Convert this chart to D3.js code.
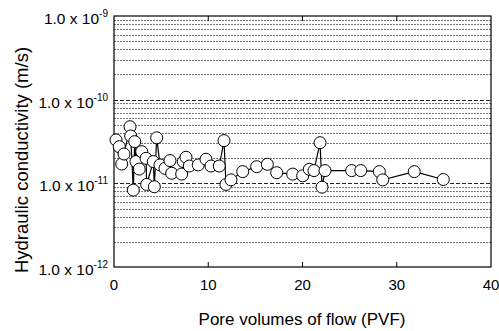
<!DOCTYPE html>
<html>
<head>
<meta charset="utf-8">
<script src="https://cdn.jsdelivr.net/npm/d3@7"></script>
<style>
  body { margin: 0; background: #fff; }
  svg text { font-family: "Liberation Sans", Arial, sans-serif; fill: #000; }
</style>
</head>
<body>
<div id="chart"></div>
<script>
// pore volumes of flow (PVF)
const pvf = [0.21, 0.56, 0.82, 1.06, 1.70, 1.77, 2.05, 2.20, 2.33, 2.68, 2.94, 3.40, 3.47,
    4.17, 4.28, 4.53, 4.88, 5.41, 5.94, 6.12, 7.18, 7.35, 7.64, 7.99, 8.94, 9.76, 10.29,
    11.17, 11.67, 11.88, 12.41, 13.66, 15.14, 16.27, 17.26, 18.96, 20.02, 20.72, 21.22,
    21.86, 22.07, 22.39, 25.22, 26.18, 28.15, 28.51, 31.86, 34.94];
// hydraulic conductivity (m/s)
const conductivity = [3.3e-11, 2.74e-11, 1.70e-11, 2.24e-11, 4.75e-11, 3.68e-11, 8.3e-12, 3.15e-11,
    1.82e-11, 1.48e-11, 2.39e-11, 1.99e-11, 9.7e-12, 1.82e-11, 9.1e-12, 3.5e-11, 1.66e-11,
    1.51e-11, 1.87e-11, 1.32e-11, 1.29e-11, 1.82e-11, 2.05e-11, 1.61e-11, 1.66e-11, 1.94e-11,
    1.61e-11, 1.61e-11, 3.24e-11, 9.7e-12, 1.10e-11, 1.38e-11, 1.58e-11, 1.69e-11, 1.34e-11,
    1.29e-11, 1.23e-11, 1.47e-11, 1.42e-11, 3.06e-11, 9.0e-12, 1.42e-11, 1.42e-11, 1.42e-11,
    1.38e-11, 1.10e-11, 1.38e-11, 1.11e-11];

const xTicks = [0, 10, 20, 30, 40];
const yDecades = [-12, -11, -10, -9];

const W = 499, H = 331;
const margin = {top: 16, right: 8, bottom: 64, left: 114};
const width = W - margin.left - margin.right;
const height = H - margin.top - margin.bottom;

const svg = d3.select("#chart").append("svg")
    .attr("width", W)
    .attr("height", H);

const g = svg.append("g")
    .attr("transform", "translate(" + margin.left + "," + margin.top + ")");

const x = d3.scaleLinear().domain([0, 40]).range([0, width]);
const y = d3.scaleLog().domain([1e-12, 1e-9]).range([height, 0]);

// gridlines: minor (2..9) and decades
let minor = [];
yDecades.slice(0, 3).forEach(function (e) {
    for (let m = 2; m <= 9; m++) minor.push(m * Math.pow(10, e));
});

g.selectAll(".minor-grid")
    .data(minor)
    .enter().append("line")
    .attr("class", "minor-grid")
    .attr("x1", 0).attr("x2", width)
    .attr("y1", d => Math.round(y(d)) + 0.5)
    .attr("y2", d => Math.round(y(d)) + 0.5)
    .attr("stroke", "#555")
    .attr("stroke-width", 0.8)
    .attr("stroke-dasharray", "2,1");

g.selectAll(".major-grid")
    .data(yDecades.slice(1, 3).map(e => Math.pow(10, e)))
    .enter().append("line")
    .attr("class", "major-grid")
    .attr("x1", 0).attr("x2", width)
    .attr("y1", d => Math.round(y(d)) + 0.5)
    .attr("y2", d => Math.round(y(d)) + 0.5)
    .attr("stroke", "#222")
    .attr("stroke-width", 1)
    .attr("stroke-dasharray", "4,2");

// frame
g.append("rect")
    .attr("x", 0).attr("y", 0)
    .attr("width", width).attr("height", height)
    .attr("fill", "none")
    .attr("stroke", "#000")
    .attr("stroke-width", 1.2);

// x ticks inside, bottom and top
g.selectAll(".xtick-b")
    .data(xTicks.slice(1, 4))
    .enter().append("line")
    .attr("x1", d => x(d)).attr("x2", d => x(d))
    .attr("y1", height).attr("y2", height - 5)
    .attr("stroke", "#000");

g.selectAll(".xtick-t")
    .data(xTicks.slice(1, 4))
    .enter().append("line")
    .attr("x1", d => x(d)).attr("x2", d => x(d))
    .attr("y1", 0).attr("y2", 5)
    .attr("stroke", "#000");

g.selectAll(".xlabel")
    .data(xTicks)
    .enter().append("text")
    .attr("x", d => x(d))
    .attr("y", height + 23)
    .attr("text-anchor", "middle")
    .style("font-size", "15px")
    .text(d => d);

// y tick labels: 1.0 x 10^n
let yl = g.selectAll(".ylabel")
    .data(yDecades)
    .enter().append("text")
    .attr("x", -6)
    .attr("y", d => y(Math.pow(10, d)) + 8)
    .attr("text-anchor", "end")
    .style("font-size", "15.5px");
yl.append("tspan").text("1.0 x 10");
yl.append("tspan")
    .attr("dy", -7)
    .style("font-size", "10px")
    .text(d => "-" + (-d));

// axis titles
svg.append("text")
    .attr("text-anchor", "middle")
    .attr("x", 302)
    .attr("y", 325)
    .style("font-size", "17px")
    .text("Pore volumes of flow (PVF)");

svg.append("text")
    .attr("text-anchor", "middle")
    .attr("transform", "translate(28,160) rotate(-90)")
    .style("font-size", "18.5px")
    .text("Hydraulic conductivity (m/s)");

// data
const points = pvf.map((d, i) => [d, conductivity[i]]);

const line = d3.line()
    .x(d => x(d[0]))
    .y(d => y(d[1]));

g.append("path")
    .datum(points)
    .attr("d", line)
    .attr("fill", "none")
    .attr("stroke", "#000")
    .attr("stroke-width", 1.2);

g.selectAll(".dot")
    .data(points)
    .enter().append("circle")
    .attr("class", "dot")
    .attr("cx", d => x(d[0]))
    .attr("cy", d => y(d[1]))
    .attr("r", 6)
    .attr("fill", "#fff")
    .attr("stroke", "#000")
    .attr("stroke-width", 1);
</script>
</body>
</html>
